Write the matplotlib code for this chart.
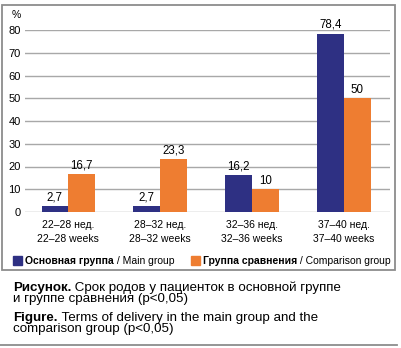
import matplotlib
matplotlib.use('Agg')
import matplotlib.pyplot as plt
from matplotlib.patches import Rectangle
from matplotlib.lines import Line2D
import numpy as np

# Delivery terms, % of patients
categories = ['22–28 нед.\n22–28 weeks', '28–32 нед.\n28–32 weeks',
              '32–36 нед.\n32–36 weeks', '37–40 нед.\n37–40 weeks']
main_group = [2.7, 2.7, 16.2, 78.4]
comparison_group = [16.7, 23.3, 10, 50]
yticks = [0, 10, 20, 30, 40, 50, 60, 70, 80]

NAVY = '#2e3083'
ORANGE = '#ee7d31'
GRID = '#a8a8a8'
FRAME = '#8c8c8c'

narrow = ['Liberation Sans Narrow', 'Liberation Sans', 'DejaVu Sans']
plain = ['Liberation Sans', 'DejaVu Sans']

W, H = 401, 348
fig = plt.figure(figsize=(W / 100, H / 100), dpi=100)

def px(x, y):
    return x / W, 1 - y / H

ax = fig.add_axes([25 / W, 1 - 212 / H, (390 - 25) / W, (212 - 30) / H])
x = np.arange(len(categories))
bw = 0.29
ax.bar(x - bw / 2, main_group, bw, color=NAVY, zorder=3)
ax.bar(x + bw / 2, comparison_group, bw, color=ORANGE, zorder=3)

for xi, v in zip(x, main_group):
    ax.text(xi - bw / 2, v + 1.2, f'{v:g}'.replace('.', ','), ha='center', va='bottom',
            fontsize=8.3, family=narrow, clip_on=False)
for xi, v in zip(x, comparison_group):
    ax.text(xi + bw / 2, v + 1.2, f'{v:g}'.replace('.', ','), ha='center', va='bottom',
            fontsize=8.3, family=narrow, clip_on=False)

ax.set_xlim(-0.47, 3.5)
ax.set_ylim(0, 80)
ax.set_yticks(yticks)
ax.set_xticks(x)
ax.set_xticklabels(categories, family=narrow, fontsize=7.5, linespacing=1.45)
for lab in ax.get_yticklabels():
    lab.set_family(narrow)
    lab.set_fontsize(8)
ax.tick_params(length=0, pad=3)
ax.tick_params(axis='x', pad=6)
ax.yaxis.grid(True, color=GRID, linewidth=1, zorder=0)
for s in ax.spines.values():
    s.set_visible(False)
ax.set_facecolor('none')

fig.text(*px(16, 15), '%', ha='center', va='center', fontsize=7.5, family=narrow)

# frame around the chart and the line under the caption
fig.add_artist(Rectangle(px(2, 270), (395 - 2) / W, (270 - 5) / H,
                         fill=False, edgecolor=FRAME, linewidth=1.3,
                         transform=fig.transFigure))
fig.add_artist(Line2D([0, 397 / W], [1 - 345 / H] * 2, color=FRAME,
                      linewidth=1.3, transform=fig.transFigure))

# legend: colour square + bold Russian name + English name
def legend_item(x0, color, bold_txt, txt):
    fig.add_artist(Rectangle(px(x0, 265), 9 / W, 9 / H, color=color,
                             transform=fig.transFigure))
    t = fig.text(*px(x0 + 12, 261), bold_txt, fontsize=7.5, family=narrow,
                 fontweight='bold', va='center')
    ax.annotate(txt, xy=(1, 0.5), xycoords=t, va='center', ha='left',
                fontsize=7.5, family=narrow, annotation_clip=False)

legend_item(13, NAVY, 'Основная группа', ' / Main group')
legend_item(191, ORANGE, 'Группа сравнения', ' / Comparison group')

# caption (bottom edges include the descent)
cap = dict(fontsize=9.6, family=plain, va='bottom', ha='left')
t1 = fig.text(*px(13, 294), 'Рисунок.', fontweight='bold', **cap)
ax.annotate(' Срок родов у пациенток в основной группе', xy=(1, 0),
            xycoords=t1, annotation_clip=False, **cap)
fig.text(*px(13, 305), 'и группе сравнения (p<0,05)', **cap)
t2 = fig.text(*px(13, 324), 'Figure.', fontweight='bold', **cap)
ax.annotate(' Terms of delivery in the main group and the', xy=(1, 0),
            xycoords=t2, annotation_clip=False, **cap)
fig.text(*px(13, 335), 'comparison group (p<0,05)', **cap)

fig.savefig('out.png', dpi=100)
